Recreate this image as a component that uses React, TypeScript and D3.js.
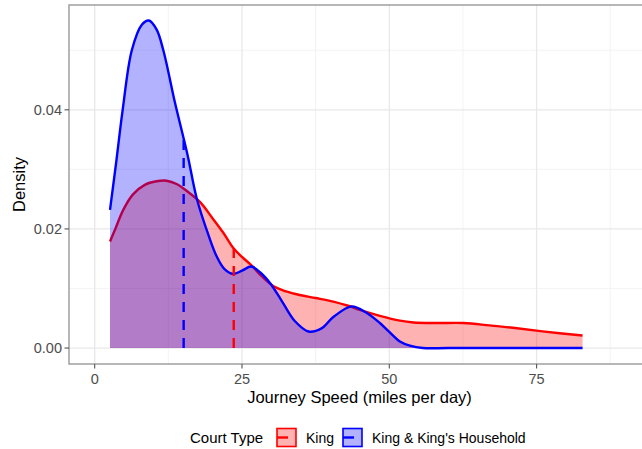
import * as d3 from 'd3'

// Court types (legend order)
const courtTypes = ['King', "King & King's Household"]
const courtColors = ['#ff0000', '#0000ff']

// Density curves: speed (miles per day) and density
const kingSpeed = [2.6, 3.5, 4.85, 6.5, 8.5, 10.5, 12.2, 14, 15.6, 17.9, 20, 21.8, 23.6, 25, 26.6, 28.3, 30.3, 32.5, 34.8, 37.5, 40.5, 43, 45, 48.4, 51.8, 54.1, 58, 62.6, 67, 71, 76, 82.8]
const kingDensity = [0.0179, 0.02, 0.0232, 0.0258, 0.0274, 0.028, 0.0281, 0.0275, 0.0264, 0.0245, 0.0218, 0.0194, 0.0167, 0.0153, 0.0139, 0.0121, 0.0104, 0.0095, 0.0089, 0.0084, 0.0078, 0.0071, 0.0064, 0.0054, 0.0046, 0.0043, 0.0042, 0.0042, 0.0038, 0.0034, 0.0028, 0.0021]

const householdSpeed = [2.6, 3.7, 4.75, 6.3, 8, 9.2, 10.5, 11.65, 13.6, 15.1, 15.9, 17.3, 19.3, 20.7, 22, 23.5, 25, 26.6, 28.2, 30, 32, 34, 36.3, 38.5, 40.5, 43.6, 46, 48.4, 50, 51.8, 53.5, 55.7, 60, 70, 82.8]
const householdDensity = [0.0232, 0.0316, 0.04, 0.05, 0.0543, 0.055, 0.0535, 0.05, 0.0413, 0.0352, 0.0318, 0.0252, 0.019, 0.0154, 0.0133, 0.01245, 0.013, 0.01368, 0.0126, 0.0106, 0.0075, 0.0045, 0.00278, 0.0033, 0.0052, 0.007, 0.006, 0.0042, 0.0027, 0.0011, 0.0004, 0, 0, 0, 0]

// Medians shown as dashed lines
const medianSpeed = [23.6, 15.1]

const xTicks = [0, 25, 50, 75]
const xMinor = [12.5, 37.5, 62.5, 87.5]
const yTicks = [0, 0.02, 0.04]
const yMinor = [0.01, 0.03, 0.05]

const W = 642
const H = 449
const FONT = '"Liberation Sans", Arial, Helvetica, sans-serif'

interface Pt { x: number; y: number }

function interp(xs: number[], ys: number[], v: number) {
  const i = Math.max(1, d3.bisectLeft(xs, v))
  const t = (v - xs[i - 1]) / (xs[i] - xs[i - 1])
  return ys[i - 1] + t * (ys[i] - ys[i - 1])
}

export default function App() {
  const panel = { left: 69, right: 650, top: 5, bottom: 364 }
  const x = d3.scaleLinear().domain([-4.36, 94.25]).range([panel.left, panel.right])
  const y = d3.scaleLinear().domain([-0.00268, 0.0576]).range([panel.bottom, panel.top])

  const series: Pt[][] = [
    kingSpeed.map((s, i) => ({ x: s, y: kingDensity[i] })),
    householdSpeed.map((s, i) => ({ x: s, y: householdDensity[i] })),
  ]
  const curves = [[kingSpeed, kingDensity], [householdSpeed, householdDensity]]

  const curve = d3.curveCatmullRom.alpha(0.5)
  const area = d3.area<Pt>().x(d => x(d.x)).y0(y(0)).y1(d => y(Math.max(0, d.y))).curve(curve)
  const line = d3.line<Pt>().x(d => x(d.x)).y(d => y(d.y)).curve(curve)

  const legendItems = [
    { box: 277, text: 306 },
    { box: 343, text: 372 },
  ]

  return (
    <svg width={W} height={H} style={{ position: 'absolute', left: 0, top: 0, background: '#fff' }} fontFamily={FONT}>
      <defs>
        <clipPath id="panel">
          <rect x={panel.left} y={panel.top} width={panel.right - panel.left} height={panel.bottom - panel.top} />
        </clipPath>
      </defs>

      {/* grid */}
      <g clipPath="url(#panel)">
        {xMinor.map(v => <line key={'xm' + v} x1={x(v)} x2={x(v)} y1={panel.top} y2={panel.bottom} stroke="#f2f2f2" strokeWidth={0.9} />)}
        {yMinor.map(v => <line key={'ym' + v} x1={panel.left} x2={panel.right} y1={y(v)} y2={y(v)} stroke="#f2f2f2" strokeWidth={0.9} />)}
        {xTicks.map(v => <line key={'xM' + v} x1={x(v)} x2={x(v)} y1={panel.top} y2={panel.bottom} stroke="#e8e8e8" strokeWidth={1.3} />)}
        {yTicks.map(v => <line key={'yM' + v} x1={panel.left} x2={panel.right} y1={y(v)} y2={y(v)} stroke="#e8e8e8" strokeWidth={1.3} />)}

        {series.map((d, i) => (
          <g key={courtTypes[i]}>
            <path d={area(d) ?? ''} fill={courtColors[i]} fillOpacity={0.3} />
            <path d={line(d) ?? ''} fill="none" stroke={courtColors[i]} strokeWidth={2.4} />
          </g>
        ))}

        {medianSpeed.map((m, i) => (
          <line key={'med' + i} x1={x(m)} x2={x(m)} y1={y(0)} y2={y(interp(curves[i][0], curves[i][1], m))}
            stroke={courtColors[i]} strokeWidth={2.4} strokeDasharray="10,8" />
        ))}
      </g>

      {/* panel border */}
      <rect x={panel.left} y={panel.top} width={panel.right - panel.left} height={panel.bottom - panel.top}
        fill="none" stroke="#999" strokeWidth={1.4} />

      {/* y axis */}
      {yTicks.map(v => (
        <g key={'yt' + v}>
          <line x1={panel.left - 4.5} x2={panel.left} y1={y(v)} y2={y(v)} stroke="#555" strokeWidth={1.1} />
          <text x={panel.left - 7} y={y(v)} dy="0.35em" textAnchor="end" fontSize={14.5} fill="#4d4d4d">{d3.format('.2f')(v)}</text>
        </g>
      ))}
      {/* x axis */}
      {xTicks.map(v => (
        <g key={'xt' + v}>
          <line x1={x(v)} x2={x(v)} y1={panel.bottom} y2={panel.bottom + 4.5} stroke="#555" strokeWidth={1.1} />
          <text x={x(v)} y={383.5} textAnchor="middle" fontSize={14.5} fill="#4d4d4d">{v}</text>
        </g>
      ))}

      <text x={359.5} y={402.5} textAnchor="middle" fontSize={16.5} fill="#000">Journey Speed (miles per day)</text>
      <text transform={`translate(25,${(panel.top + panel.bottom) / 2}) rotate(-90)`} textAnchor="middle" fontSize={16.5} fill="#000">Density</text>

      {/* legend */}
      <text x={190} y={442.5} fontSize={15} fill="#000">Court Type</text>
      {legendItems.map((l, i) => (
        <g key={'leg' + i}>
          <rect x={l.box} y={428.5} width={19} height={18} fill={courtColors[i]} fillOpacity={0.3} stroke={courtColors[i]} strokeWidth={1.6} />
          <line x1={l.box} x2={l.box + 19} y1={437.5} y2={437.5} stroke={courtColors[i]} strokeWidth={2.4} strokeDasharray="11,8" />
          <text x={l.text} y={442.5} fontSize={14} fill="#000">{courtTypes[i]}</text>
        </g>
      ))}
    </svg>
  )
}
